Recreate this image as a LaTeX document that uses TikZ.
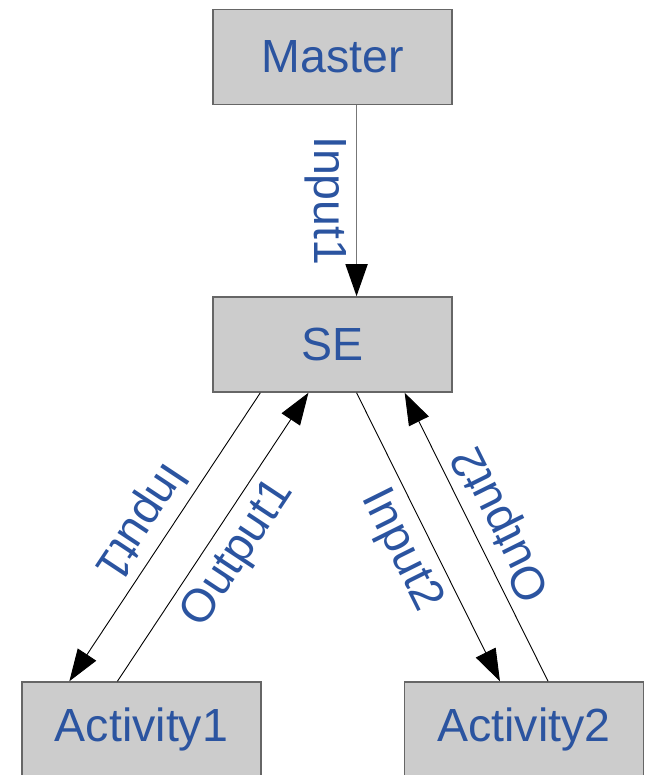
\documentclass[tikz,border=0pt]{standalone}
\usepackage{fontspec}
\setmainfont{Liberation Sans}
\usetikzlibrary{calc,arrows.meta}
\definecolor{boxfill}{HTML}{CCCCCC}
\definecolor{boxdraw}{HTML}{666666}
\definecolor{txtblue}{HTML}{2B54A0}
\definecolor{vline}{HTML}{777777}
\begin{document}
\begin{tikzpicture}[x=1pt,y=-1pt,
  box/.style={draw=boxdraw, line width=1.5pt, fill=boxfill, minimum width=239pt,
    minimum height=95pt, inner sep=0pt, text=txtblue, font=\fontsize{46.5}{50}\selectfont},
  conn/.style={-{Triangle[length=32pt,width=22pt,color=black]}, line width=0.9pt, draw=black},
  vconn/.style={conn, draw=vline, line width=1.6pt},
  lbl/.style={sloped, allow upside down, anchor=north, inner xsep=0pt, inner ysep=9pt,
    text=txtblue, font=\fontsize{46.5}{50}\selectfont}]
\useasboundingbox (0,0) rectangle (645,775);
\node[box] (M) at (332.5,57) {Master};
\node[box] (SE) at (332.5,344.5) {SE};
\node[box] (A1) at (141.5,729.5) {Activity1};
\node[box] (A2) at (524,729.5) {Activity2};
\draw[vconn] ($(M.south west)!0.6!(M.south east)$) -- ($(SE.north west)!0.6!(SE.north east)$)
  node[lbl, pos=0.5] (l0) {Input1};
\draw[conn] ($(SE.south west)!0.2!(SE.south east)$) -- ($(A1.north west)!0.2!(A1.north east)$)
  node[lbl, pos=0.5] (l1) {Input1};
\draw[conn] ($(A1.north west)!0.4!(A1.north east)$) -- ($(SE.south west)!0.4!(SE.south east)$)
  node[lbl, pos=0.5] (l2) {Output1};
\draw[conn] ($(SE.south west)!0.6!(SE.south east)$) -- ($(A2.north west)!0.4!(A2.north east)$)
  node[lbl, pos=0.5] (l3) {Input2};
\draw[conn] ($(A2.north west)!0.6!(A2.north east)$) -- ($(SE.south west)!0.8!(SE.south east)$)
  node[lbl, pos=0.5] (l4) {Output2};
\end{tikzpicture}
\end{document}
